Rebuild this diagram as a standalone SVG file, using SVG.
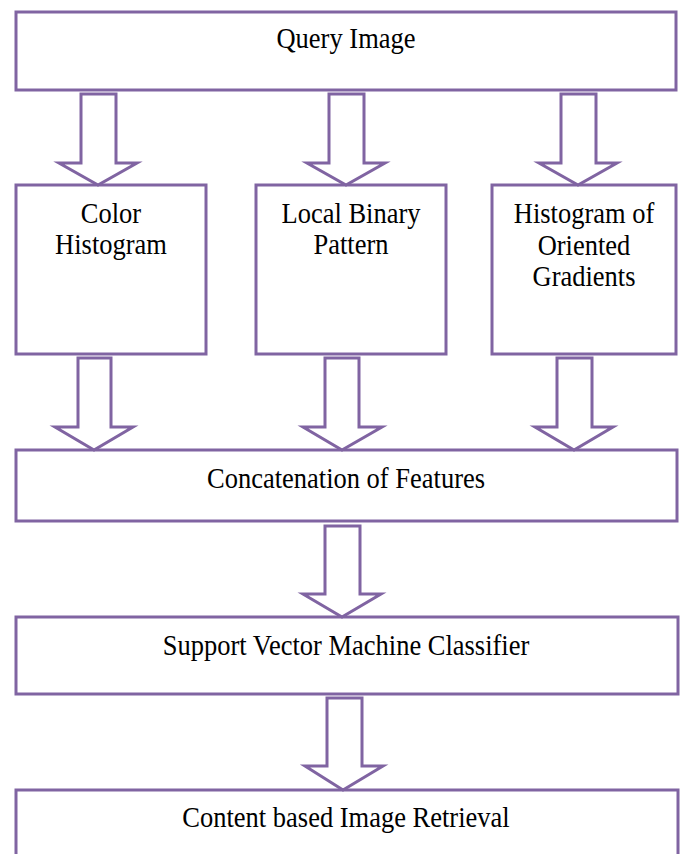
<svg xmlns="http://www.w3.org/2000/svg" width="681" height="854" viewBox="0 0 681 854">
<style>
.box{fill:#fff;stroke:#8064A2;stroke-width:3}
.arr{fill:#fff;stroke:#8064A2;stroke-width:3;stroke-linejoin:miter}
text{font-family:"Liberation Serif","Times New Roman",serif;font-size:26.5px;fill:#000;text-anchor:middle}
</style>
<rect width="681" height="854" fill="#fff"/>
<g id="query"><rect class="box" x="16" y="12" width="660" height="78"/><text transform="translate(346,48) scale(1,1.1)">Query Image</text></g>
<g id="color"><rect class="box" x="16" y="185" width="190" height="169"/><text transform="translate(111,223) scale(1,1.1)">Color</text><text transform="translate(111,254) scale(1,1.1)">Histogram</text></g>
<g id="lbp"><rect class="box" x="256" y="185" width="190" height="169"/><text transform="translate(351,223) scale(1,1.1)">Local Binary</text><text transform="translate(351,254) scale(1,1.1)">Pattern</text></g>
<g id="hog"><rect class="box" x="492" y="185" width="184" height="169"/><text transform="translate(584,223) scale(1,1.1)">Histogram of</text><text transform="translate(584,255) scale(1,1.1)">Oriented</text><text transform="translate(584,286) scale(1,1.1)">Gradients</text></g>
<g id="concat"><rect class="box" x="16" y="450" width="661" height="71"/><text transform="translate(346,488) scale(1,1.1)">Concatenation of Features</text></g>
<g id="svm"><rect class="box" x="16" y="617" width="662" height="77"/><text transform="translate(346,655) scale(1,1.1)">Support Vector Machine Classifier</text></g>
<g id="cbir"><rect class="box" x="16" y="790" width="662" height="80"/><text transform="translate(346,827) scale(1,1.1)">Content based Image Retrieval</text></g>
<g id="connectors">
<polygon class="arr" points="81,94 116,94 116,163 137,163 98,185 59,163 81,163"/>
<polygon class="arr" points="329,94 364,94 364,163 385,163 346,185 307,163 329,163"/>
<polygon class="arr" points="561,94 596,94 596,163 617,163 578,185 539,163 561,163"/>
<polygon class="arr" points="78,358 111,358 111,427 133,427 94,450 55,427 78,427"/>
<polygon class="arr" points="325,358 359,358 359,427 382,427 342,450 303,427 325,427"/>
<polygon class="arr" points="557,358 592,358 592,427 613,427 574,450 535,427 557,427"/>
<polygon class="arr" points="325,526 360,526 360,594 381,594 342,617 303,594 325,594"/>
<polygon class="arr" points="327,698 362,698 362,766 383,766 343,790 305,766 327,766"/>
</g>
</svg>
